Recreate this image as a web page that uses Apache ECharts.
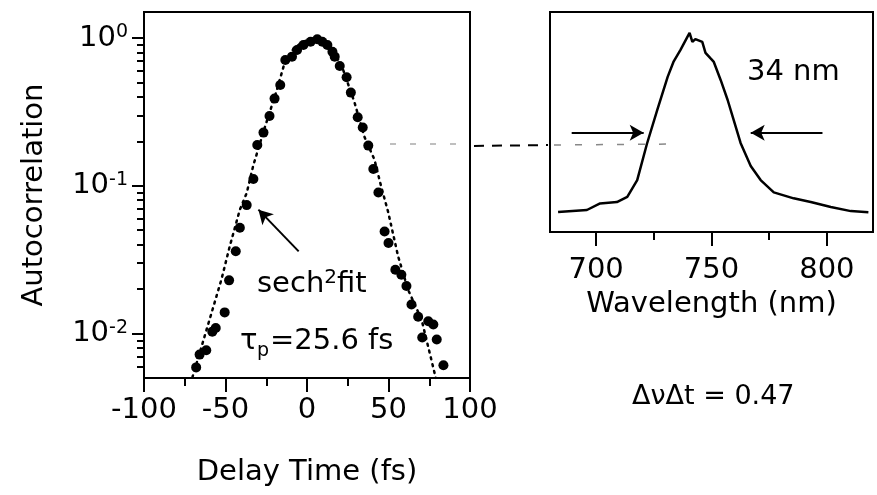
<!DOCTYPE html>
<html>
<head>
<meta charset="utf-8">
<script src="https://cdn.jsdelivr.net/npm/echarts@6/dist/echarts.min.js"></script>
<style>html,body{margin:0;padding:0;background:#fff}#c{width:877px;height:495px}</style>
</head>
<body>
<div id="c"></div>
<script>
// ---- Left panel: autocorrelation (log scale) ----
var delayTime = [-68.0,-65.9,-61.8,-58.1,-56.0,-50.5,-47.8,-43.7,-41.2,-37.0,-32.9,-30.5,-26.7,-23.0,-19.9,-16.4,-13.3,-9.2,-6.1,-2.2,2.2,6.3,9.4,12.5,15.6,17.0,20.1,24.3,26.9,31.1,34.2,37.6,40.7,43.8,47.6,50.0,54.2,57.9,61.0,64.1,68.2,70.7,74.4,77.5,79.6,83.7];
var autocorr = [0.0059,0.0072,0.0077,0.0103,0.0109,0.0139,0.0229,0.036,0.052,0.074,0.111,0.189,0.229,0.297,0.389,0.481,0.710,0.748,0.830,0.897,0.944,0.98,0.944,0.897,0.808,0.748,0.647,0.542,0.427,0.291,0.248,0.187,0.130,0.090,0.049,0.041,0.027,0.025,0.021,0.0157,0.0130,0.0094,0.0121,0.0115,0.0091,0.0061];
var fitTime = [-70.3,-59.8,-52.5,-47.4,-41.2,-37.0,-32.9,-25.7,-18.5,-14.4,-8,0,4,8,15,20.7,29.0,35.2,41.4,45.5,49.7,55.9,62.0,70.3,76.5,79];
var fitValue = [0.00505,0.0124,0.0232,0.0389,0.0689,0.0893,0.138,0.252,0.445,0.640,0.86,0.97,1.0,0.97,0.82,0.678,0.371,0.215,0.150,0.0989,0.067,0.0333,0.0198,0.0124,0.0065,0.005];
var delayTicks = [-100,-50,0,50,100];
var delayMinorTicks = [-75,-25,25,75];
var logTicks = [0.01,0.1,1];
var logMinorTicks = [0.006,0.007,0.008,0.009,0.02,0.03,0.04,0.05,0.06,0.07,0.08,0.09,0.2,0.3,0.4,0.5,0.6,0.7,0.8,0.9];

// ---- Right panel: spectrum ----
var wavelength = [683.5,696,701.7,709,713.5,717.8,722,726.5,731,733.5,736.5,739.5,740.5,741.7,743,746,747.4,749.5,751,754,757,759.6,762.6,767,771.3,777,785.6,793,801.7,810.4,818];
var intensity = [0.091,0.10,0.13,0.136,0.16,0.236,0.40,0.555,0.705,0.773,0.827,0.886,0.905,0.864,0.877,0.864,0.814,0.79,0.773,0.69,0.60,0.51,0.405,0.30,0.236,0.18,0.153,0.136,0.114,0.095,0.09];
var wlTicks = [700,750,800];
var wlMinorTicks = [725,775];

var FONT = 'DejaVu Sans';
var chart = echarts.init(document.getElementById('c'), null, {renderer: 'canvas'});

function pairs(a, b) { return a.map(function (v, i) { return [v, b[i]]; }); }
var axisLineStyle = {show: true, onZero: false, lineStyle: {color: '#000', width: 2}};
var noLine = {show: false, onZero: false};
var tStyle = {color: '#000', fontFamily: FONT, fontSize: 29};

var option = {
  animation: false,
  backgroundColor: '#fff',
  grid: [
    {left: 144, top: 12, width: 326, height: 366, show: true, borderColor: '#000', borderWidth: 2, backgroundColor: 'transparent', outerBoundsMode: 'none'},
    {left: 550, top: 12, width: 323, height: 220, show: true, borderColor: '#000', borderWidth: 2, backgroundColor: 'transparent', outerBoundsMode: 'none'}
  ],
  xAxis: [
    {type: 'value', gridIndex: 0, min: -100, max: 100, axisLine: axisLineStyle, splitLine: {show: false},
     axisTick: {customValues: delayTicks, length: 14, lineStyle: {color: '#000', width: 2}},
     axisLabel: {customValues: delayTicks, margin: 18, color: '#000', fontFamily: FONT, fontSize: 29},
     name: 'Delay Time (fs)', nameLocation: 'middle', nameGap: 80, nameTextStyle: tStyle},
    {type: 'value', gridIndex: 0, min: -100, max: 100, axisLine: noLine, splitLine: {show: false},
     axisTick: {customValues: delayMinorTicks, length: 8, lineStyle: {color: '#000', width: 2}},
     axisLabel: {show: false}, position: 'bottom'},
    {type: 'value', gridIndex: 1, min: 680, max: 820, axisLine: axisLineStyle, splitLine: {show: false},
     axisTick: {customValues: wlTicks, length: 14, lineStyle: {color: '#000', width: 2}},
     axisLabel: {customValues: wlTicks, margin: 24, color: '#000', fontFamily: FONT, fontSize: 29},
     name: 'Wavelength (nm)', nameLocation: 'middle', nameGap: 58, nameTextStyle: tStyle},
    {type: 'value', gridIndex: 1, min: 680, max: 820, axisLine: noLine, splitLine: {show: false},
     axisTick: {customValues: wlMinorTicks, length: 8, lineStyle: {color: '#000', width: 2}},
     axisLabel: {show: false}, position: 'bottom'}
  ],
  yAxis: [
    {type: 'log', logBase: 10, gridIndex: 0, min: 0.005, max: 1.5, axisLine: axisLineStyle, splitLine: {show: false},
     axisTick: {customValues: logTicks, length: 12, lineStyle: {color: '#000', width: 2}},
     axisLabel: {customValues: logTicks, margin: 16, color: '#000', fontFamily: FONT, fontSize: 29,
       formatter: function (v) {
         var e = Math.round(Math.log10(v));
         return '{b|10}{s|' + (e < 0 ? '-' + (-e) : e) + '}';
       },
       rich: {b: {fontFamily: FONT, fontSize: 29, color: '#000', lineHeight: 30},
              s: {fontFamily: FONT, fontSize: 19, color: '#000', verticalAlign: 'top', lineHeight: 30}}},
     name: 'Autocorrelation', nameLocation: 'middle', nameGap: 95, nameRotate: 90, nameTextStyle: tStyle},
    {type: 'log', logBase: 10, gridIndex: 0, min: 0.005, max: 1.5, axisLine: noLine, splitLine: {show: false},
     axisTick: {customValues: logMinorTicks, length: 7, lineStyle: {color: '#000', width: 2}},
     axisLabel: {show: false}, position: 'left'},
    {type: 'value', gridIndex: 1, min: 0, max: 1, axisLine: axisLineStyle, axisTick: {show: false},
     axisLabel: {show: false}, splitLine: {show: false}}
  ],
  series: [
    {type: 'line', xAxisIndex: 0, yAxisIndex: 0, data: pairs(fitTime, fitValue), showSymbol: false, symbol: 'none',
     lineStyle: {color: '#000', width: 2.5, type: [2, 5], cap: 'round'}, silent: true},
    {type: 'scatter', xAxisIndex: 0, yAxisIndex: 0, data: pairs(delayTime, autocorr), symbol: 'circle', symbolSize: 10,
     itemStyle: {color: '#000', opacity: 1}, silent: true,
     markLine: {silent: true, symbol: ['none', 'arrow'], symbolSize: [12, 14], label: {show: false},
       lineStyle: {color: '#000', width: 2, type: 'solid'},
       data: [[{coord: [-5.1, 0.036]}, {coord: [-29.8, 0.0689]}]]}},
    {type: 'line', xAxisIndex: 2, yAxisIndex: 2, data: pairs(wavelength, intensity), showSymbol: false, symbol: 'none',
     lineStyle: {color: '#000', width: 2.5}, silent: true,
     markLine: {silent: true, symbol: ['none', 'arrow'], symbolSize: [12, 14], label: {show: false},
       lineStyle: {color: '#000', width: 2, type: 'solid'},
       data: [[{coord: [689.4, 0.451]}, {coord: [720.6, 0.451]}],
              [{coord: [798.1, 0.451]}, {coord: [767, 0.451]}]]}}
  ],
  graphic: [
    {type: 'line', shape: {x1: 390, y1: 144, x2: 468, y2: 144}, style: {stroke: '#aaa', lineWidth: 1.5, lineDash: [6, 14]}, silent: true},
    {type: 'line', shape: {x1: 474, y1: 146, x2: 548, y2: 145}, style: {stroke: '#000', lineWidth: 2, lineDash: [10, 8]}, silent: true},
    {type: 'line', shape: {x1: 554, y1: 145, x2: 680, y2: 144}, style: {stroke: '#888', lineWidth: 1.5, lineDash: [7, 14]}, silent: true},
    {type: 'text', left: 257, top: 268, silent: true,
     style: {text: '{a|sech}{b|2}{a|fit}', rich: {
       a: {fontFamily: FONT, fontSize: 29, fill: '#000', lineHeight: 32},
       b: {fontFamily: FONT, fontSize: 20, fill: '#000', verticalAlign: 'top', lineHeight: 32}}}},
    {type: 'text', left: 240, top: 327, silent: true,
     style: {text: 'τ', fontFamily: FONT, fontSize: 29, fill: '#000'}},
    {type: 'text', left: 257, top: 342, silent: true,
     style: {text: 'p', fontFamily: FONT, fontSize: 19, fill: '#000'}},
    {type: 'text', left: 270, top: 327, silent: true,
     style: {text: '=25.6 fs', fontFamily: FONT, fontSize: 29, fill: '#000'}},
    {type: 'text', left: 747, top: 58, silent: true,
     style: {text: '34 nm', fontFamily: FONT, fontSize: 29, fill: '#000'}},
    {type: 'text', left: 632, top: 383, silent: true,
     style: {text: 'ΔνΔt = 0.47', fontFamily: FONT, fontSize: 27, fill: '#000'}}
  ]
};
chart.setOption(option);
</script>
</body>
</html>
